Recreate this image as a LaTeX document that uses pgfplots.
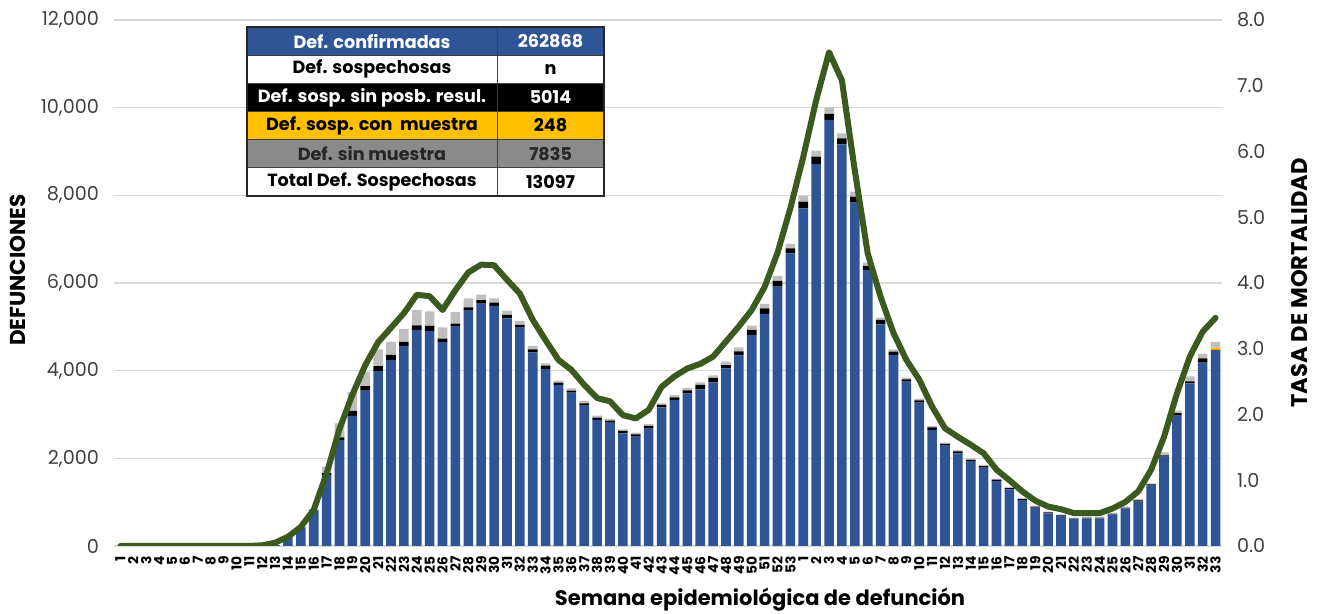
\documentclass[border=0pt]{standalone}
\usepackage{pgfplots}
\pgfplotsset{compat=1.18}
\usepackage{pgfplotstable}
\usepackage{fontspec}
\setmainfont{Poppins}
\definecolor{barblue}{HTML}{2F5597}
\definecolor{linegreen}{HTML}{3A5A1F}
\definecolor{sgray}{HTML}{BFBFBF}
\definecolor{syellow}{HTML}{FFC000}
\definecolor{tgray}{HTML}{8A8A8A}
\definecolor{gridgray}{HTML}{D9D9D9}
\definecolor{labgray}{HTML}{404040}

\pgfplotstableread{
i conf sin con mue tasa
1 0 0 0 0 0
2 0 0 0 0 0
3 0 0 0 0 0
4 0 0 0 0 0
5 0 0 0 0 0
6 0 0 0 0 0
7 0 0 0 0 0
8 0 0 0 0 0
9 0 0 0 0 0
10 0 0 0 0 0
11 0 0 0 0 0
12 0 0 0 0 0.01
13 20 0 0 0 0.05
14 200 0 0 5 0.14
15 420 5 0 10 0.29
16 810 10 0 20 0.55
17 1620 40 0 150 1.10
18 2420 60 0 320 1.78
19 2970 110 0 430 2.30
20 3545 105 0 330 2.75
21 3990 115 0 380 3.10
22 4245 115 0 300 3.32
23 4565 90 0 300 3.54
24 4930 105 0 350 3.82
25 4905 115 0 330 3.80
26 4650 80 0 260 3.59
27 5005 70 0 260 3.89
28 5370 75 0 205 4.16
29 5530 80 0 125 4.28
30 5476 75 0 100 4.27
31 5194 76 0 99 4.05
32 4981 61 0 91 3.84
33 4418 69 0 76 3.44
34 4038 76 0 53 3.13
35 3673 53 0 46 2.83
36 3498 46 0 53 2.68
37 3201 54 0 53 2.45
38 2875 53 0 45 2.25
39 2814 45 0 39 2.20
40 2570 54 0 38 1.99
41 2494 54 0 37 1.94
42 2677 61 0 45 2.07
43 3164 53 0 38 2.42
44 3331 61 0 53 2.58
45 3484 68 0 53 2.70
46 3575 98 0 61 2.77
47 3734 99 0 61 2.88
48 4054 75 0 76 3.11
49 4350 90 0 90 3.34
50 4814 114 0 98 3.59
51 5293 129 0 99 3.94
52 5916 130 0 114 4.46
53 6677 114 0 99 5.14
54 7704 152 0 129 5.92
55 8715 167 0 137 6.78
56 9719 137 0 152 7.51
57 9165 136 0 114 7.08
58 7833 137 0 114 5.71
59 6297 91 0 76 4.45
60 5058 98 0 53 3.79
61 4358 76 0 53 3.24
62 3749 54 0 37 2.83
63 3270 53 0 38 2.53
64 2647 61 0 30 2.12
65 2289 38 0 30 1.79
66 2114 46 0 30 1.66
67 1924 38 0 38 1.54
68 1787 38 0 23 1.41
69 1483 30 0 23 1.16
70 1293 30 0 23 1.00
71 1049 23 0 23 0.83
72 874 23 0 16 0.69
73 746 20 0 17 0.60
74 684 15 0 24 0.56
75 616 10 0 20 0.50
76 632 12 0 25 0.50
77 632 12 0 25 0.50
78 723 12 0 25 0.57
79 860 12 0 25 0.67
80 1011 30 0 31 0.83
81 1392 15 0 23 1.16
82 2038 30 0 69 1.66
83 2973 61 0 53 2.32
84 3711 46 5 106 2.88
85 4182 99 10 92 3.26
86 4456 20 50 130 3.47
}\data

\begin{document}
\begin{tikzpicture}
\path[use as bounding box] (0pt,0pt) rectangle (660pt,307pt);
\begin{axis}[
  at={(57pt,34pt)}, anchor=south west, scale only axis,
  width=554pt, height=263pt,
  xmin=0.5, xmax=86.5, ymin=0, ymax=12000,
  scaled y ticks=false, scaled x ticks=false,
  ybar stacked, bar width=4.8pt,
  axis line style={draw=none},
  major tick length=0pt,
  ymajorgrids, major grid style={gridgray, line width=0.6pt},
  ytick={0,2000,4000,6000,8000,10000,12000},
  yticklabels={0,{2,000},{4,000},{6,000},{8,000},{10,000},{12,000}},
  yticklabel style={font=\fontsize{9.6}{10}\selectfont, text=labgray},
  yticklabel shift=4pt,
  xtick={1,...,86},
  xticklabels={1,2,3,4,5,6,7,8,9,10,11,12,13,14,15,16,17,18,19,20,21,22,23,24,25,26,27,28,29,30,31,32,33,34,35,36,37,38,39,40,41,42,43,44,45,46,47,48,49,50,51,52,53,1,2,3,4,5,6,7,8,9,10,11,12,13,14,15,16,17,18,19,20,21,22,23,24,25,26,27,28,29,30,31,32,33},
  xticklabel style={rotate=90, anchor=east, font=\bfseries\fontsize{6.9}{7}\selectfont, inner sep=0pt},
  xticklabel shift=5pt,
]
\addplot[fill=barblue, draw=none] table[x=i,y=conf]{\data};
\addplot[fill=black, draw=none] table[x=i,y=sin]{\data};
\addplot[fill=syellow, draw=none] table[x=i,y=con]{\data};
\addplot[fill=sgray, draw=none] table[x=i,y=mue]{\data};
\end{axis}
\begin{axis}[
  at={(57pt,34pt)}, anchor=south west, scale only axis,
  width=554pt, height=263pt,
  xmin=0.5, xmax=86.5, ymin=0, ymax=8,
  scaled y ticks=false,
  axis x line=none, axis y line*=right,
  axis line style={draw=none},
  major tick length=0pt,
  ytick={0,1,2,3,4,5,6,7,8},
  yticklabels={0.0,1.0,2.0,3.0,4.0,5.0,6.0,7.0,8.0},
  yticklabel style={font=\fontsize{9.6}{10}\selectfont, text=labgray},
  yticklabel shift=4pt,
]
\addplot[draw=linegreen, line width=3pt, line join=round, line cap=round] table[x=i,y=tasa]{\data};
\end{axis}
% axis titles
\node[rotate=90, font=\bfseries\fontsize{10.8}{12}\selectfont] at (9pt,172pt) {DEFUNCIONES};
\node[rotate=90, font=\bfseries\fontsize{11.3}{12}\selectfont] at (650pt,165.5pt) {TASA DE MORTALIDAD};
\node[font=\bfseries\fontsize{10.5}{12}\selectfont] at (380pt,7pt) {Semana epidemiológica de defunción};
% table
\begin{scope}[x=1pt,y=1pt]
\fill[barblue] (123.5,293.5) rectangle (302,279.42);
\fill[white] (123.5,279.42) rectangle (302,265.34);
\fill[black] (123.5,265.34) rectangle (302,251.26);
\fill[syellow] (123.5,251.26) rectangle (302,237.18);
\fill[tgray] (123.5,237.18) rectangle (302,223.10);
\fill[white] (123.5,223.10) rectangle (302,209.02);
\foreach \yy in {279.42,265.34,251.26,237.18,223.10} \draw[black!75, line width=0.5pt] (123.5,\yy) -- (302,\yy);
\draw[black!75, line width=0.5pt] (248.5,293.5) -- (248.5,209.02);
\draw[black!85, line width=0.7pt] (123.5,293.5) rectangle (302,209.02);
\begin{scope}[every node/.style={font=\bfseries\fontsize{8.8}{10}\selectfont, inner sep=0pt}]
\node[text=white] at (186,286.46) {Def. confirmadas};
\node[text=white] at (275.25,286.46) {262868};
\node[text=black] at (186,272.38) {Def. sospechosas};
\node[text=black] at (275.25,272.38) {n};
\node[text=white] at (186,258.30) {Def. sosp. sin posb. resul.};
\node[text=white] at (275.25,258.30) {5014};
\node[text=black] at (186,244.22) {Def. sosp. con\ \ muestra};
\node[text=black] at (275.25,244.22) {248};
\node[text=black!85] at (186,230.14) {Def. sin muestra};
\node[text=black!85] at (275.25,230.14) {7835};
\node[text=black] at (186,216.06) {Total Def. Sospechosas};
\node[text=black] at (275.25,216.06) {13097};
\end{scope}
\end{scope}
\end{tikzpicture}
\end{document}
